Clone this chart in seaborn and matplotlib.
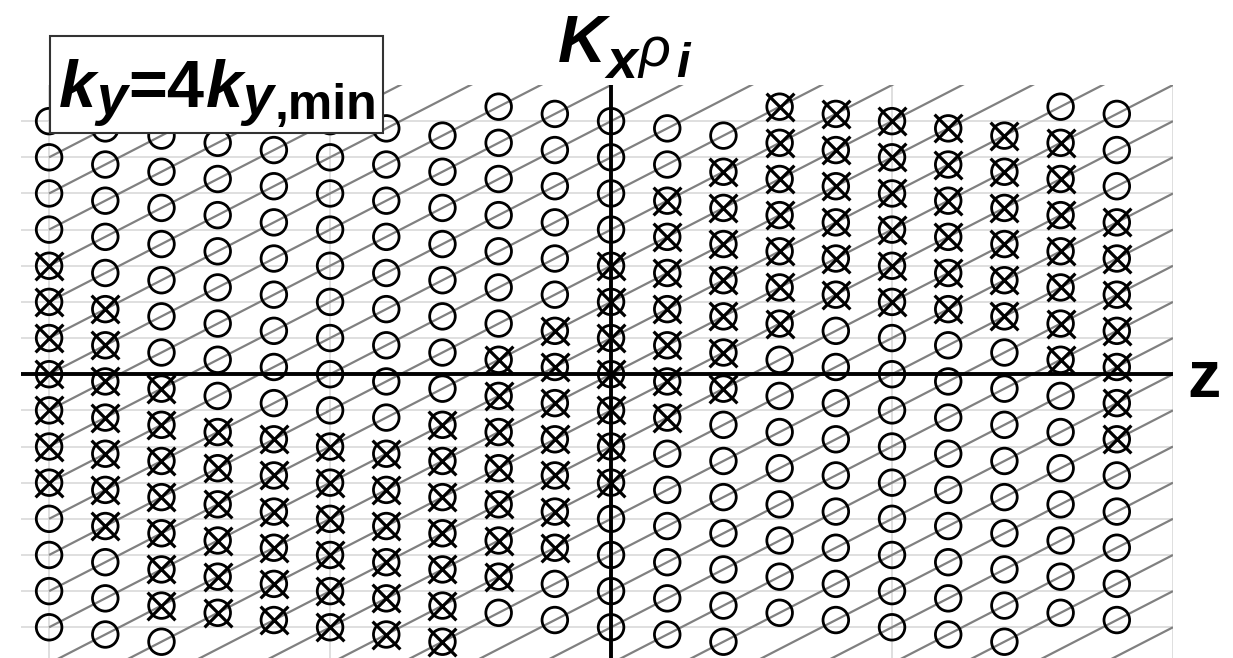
import numpy as np
import pandas as pd
import seaborn as sns
import matplotlib.pyplot as plt
from matplotlib.patches import Rectangle

# -----------------------------
# Data
# -----------------------------
# z position of each column of markers
z_cols = [-2.0, -1.8, -1.6, -1.4, -1.2, -1.0, -0.8, -0.6, -0.4, -0.2,
          0.0, 0.2, 0.4, 0.6, 0.8, 1.0, 1.2, 1.4, 1.6, 1.8]
# K_x rho_i value of the top marker in each column (15 markers per column, step 1)
k_top = [7.0, 6.8, 6.6, 7.4, 7.2, 7.0, 6.8, 6.6, 7.4, 7.2,
         7.0, 6.8, 6.6, 7.4, 7.2, 7.0, 6.8, 6.6, 7.4, 7.2]
# marker type top -> bottom: o = open circle, x = crossed circle
marks = [
    "ooooxxxxxxxoooo",
    "oooooxxxxxxxooo",
    "oooooooxxxxxxxo",
    "oooooooooxxxxxx",
    "oooooooooxxxxxx",
    "oooooooooxxxxxx",
    "oooooooooxxxxxx",
    "ooooooooxxxxxxx",
    "oooooooxxxxxxxo",
    "ooooooxxxxxxxoo",
    "ooooxxxxxxxoooo",
    "ooxxxxxxxoooooo",
    "oxxxxxxxooooooo",
    "xxxxxxxoooooooo",
    "xxxxxxooooooooo",
    "xxxxxxooooooooo",
    "xxxxxxooooooooo",
    "xxxxxxooooooooo",
    "oxxxxxxxooooooo",
    "oooxxxxxxxooooo",
]
# sheared lines  K_x rho_i = 4 z + n
line_slope = 4
line_offsets = list(range(-15, 16))
grid_z = [-2, -1, 0, 1, 2]
grid_k = list(range(-7, 8))

rows = []
for z, top, m in zip(z_cols, k_top, marks):
    for i, c in enumerate(m):
        rows.append({"z": z, "k": round(top - i, 1), "crossed": c == "x"})
df = pd.DataFrame(rows)

sns.set_theme(style="white")
plt.rcParams["font.family"] = ["Liberation Sans", "DejaVu Sans"]
plt.rcParams["text.color"] = "black"

W, H = 1233, 658
fig = plt.figure(figsize=(W / 100, H / 100), dpi=100)
ax = fig.add_axes([21 / W, 0, 1152 / W, 573 / H])

# grid
ax.set_xticks(grid_z)
ax.set_yticks(grid_k)
ax.grid(True, color="#d6d6d6", linewidth=1.1, zorder=0)
ax.tick_params(length=0, labelbottom=False, labelleft=False)
for s in ax.spines.values():
    s.set_visible(False)

# diagonal lines, starting at z = -2
for n in line_offsets:
    zz = np.array([grid_z[0], grid_z[-1]])
    ax.plot(zz, line_slope * zz + n, color="#808080", lw=1.6, zorder=2,
            solid_capstyle="butt")

# axes through the origin
ax.axhline(0, color="black", lw=2.8, zorder=3)
ax.axvline(0, color="black", lw=2.8, zorder=3)

# markers
sns.scatterplot(data=df, x="z", y="k", marker="o", s=340, facecolor="none",
                edgecolor="black", linewidth=2.0, legend=False, zorder=4, ax=ax)
sns.scatterplot(data=df[df["crossed"]], x="z", y="k", marker="x", s=400,
                color="black", linewidth=2.3, legend=False, zorder=4, ax=ax)

ax.set_xlim(-2.1, 2.0)
ax.set_ylim(-7.85, 8.0)
ax.set_xlabel("")
ax.set_ylabel("")


def chain_text(x0, y0, parts, zorder=11):
    # parts: (text, size, style, weight, dx_pt, dy_pt)
    txt, size, style, weight, dx, dy = parts[0]
    prev = ax.text(x0, y0, txt, transform=fig.transFigure, fontsize=size,
                   fontstyle=style, fontweight=weight, ha="left",
                   va="baseline", zorder=zorder, clip_on=False)
    for txt, size, style, weight, dx, dy in parts[1:]:
        prev = ax.annotate(txt, xy=(1, y0), xycoords=(prev, "figure fraction"),
                           xytext=(dx, dy), textcoords="offset points",
                           fontsize=size, fontstyle=style, fontweight=weight,
                           ha="left", va="baseline", zorder=zorder,
                           annotation_clip=False)


# title K_x rho_i
chain_text(558 / W, (H - 61.7) / H, [
    ("K", 48, "italic", "bold", 0, 0),
    ("x", 40, "italic", "bold", 0, -12),
    ("\u03c1", 40, "italic", "normal", 1, -3),
    ("i", 35, "italic", "bold", 4, -11),
])

# z label
ax.text(1187 / W, (H - 397) / H, "z", transform=fig.transFigure, fontsize=48,
        fontweight="bold", ha="left", va="baseline", clip_on=False)

# boxed label k_y = 4 k_y,min
ax.add_patch(Rectangle((50 / W, (H - 133) / H), 333 / W, 97 / H,
                       transform=fig.transFigure, facecolor="white",
                       edgecolor="#333333", lw=1.5, zorder=10, clip_on=False))
chain_text(59 / W, (H - 106.7) / H, [
    ("k", 48, "italic", "bold", 0, 0),
    ("y", 40, "italic", "bold", 0.3, -5),
    ("=4", 48, "normal", "bold", 0.5, 0),
    ("k", 48, "italic", "bold", 1, 0),
    ("y", 40, "italic", "bold", 0.3, -5),
    (",min", 36, "normal", "bold", 1, -8.5),
])

fig.savefig("out.png", dpi=100)
plt.close(fig)
